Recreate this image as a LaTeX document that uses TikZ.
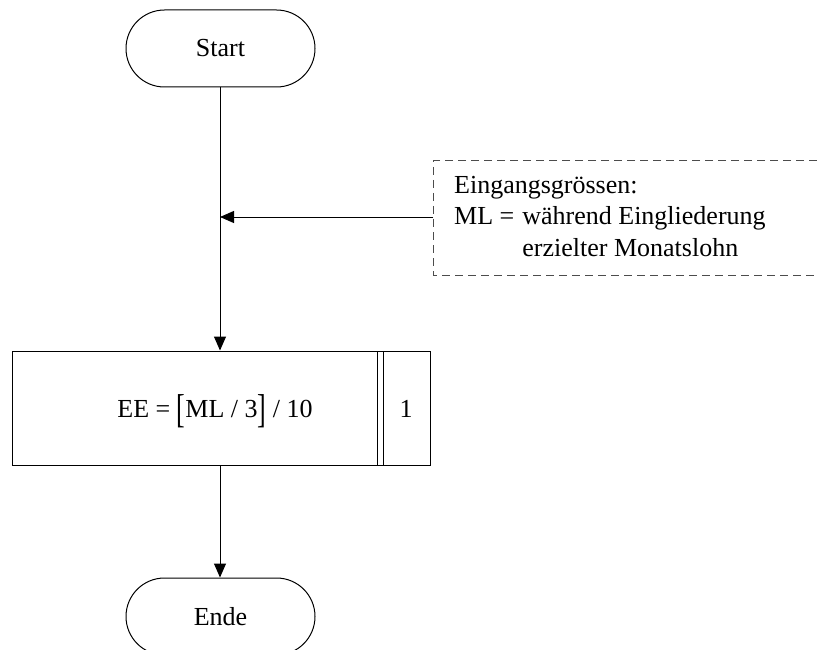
\documentclass[tikz,border=0pt]{standalone}
\usepackage{fontspec}
\setmainfont{Liberation Serif}
\usetikzlibrary{arrows.meta}
\begin{document}
\begin{tikzpicture}[x=1pt,y=-1pt,
  every node/.style={font=\fontsize{26}{30}\selectfont},
  line/.style={line width=1pt,draw=black},
  arr/.style={line,-{Triangle[length=14pt,width=12pt]}},
  terminal/.style={line,rectangle,rounded corners=38.5pt,minimum width=189pt,minimum height=77pt,inner sep=0pt},
  procbox/.style={line,rectangle,minimum width=418pt,minimum height=114pt,inner sep=0pt},
  dashedline/.style={line width=1pt,draw=black!70,dash pattern=on 8pt off 5pt}]
\useasboundingbox (0,0) rectangle (817,650);
\clip (0,0) rectangle (817,650);
\node[terminal] (start) at (220.5,48.5) {Start};
\node[procbox] (proc) at (221,408) {};
\node[anchor=base] (eq) at (215,417) {EE = \raisebox{-0.22em}{\scalebox{1}[1.55]{[}}ML / 3\raisebox{-0.22em}{\scalebox{1}[1.55]{]}} / 10};
\node[anchor=base] (num) at (406,417) {1};
\draw[line] (377,351) -- (377,465);
\draw[line] (383,351) -- (383,465);
\node[terminal] (ende) at (220.5,616.5) {Ende};
% input box
\node[anchor=north west,inner sep=0pt,align=left] (inp) at (454,172) {%
\renewcommand\arraystretch{1.035}%
\begin{tabular}{@{}l@{\hspace{8pt}}l@{}}
\multicolumn{2}{@{}l@{}}{Eingangsgrössen:}\\
ML = & während Eingliederung\\
 & erzielter Monatslohn
\end{tabular}};
\draw[dashedline] (817,161) -- (433,161) -- (433,275) -- (817,275);
\coordinate (inpL) at (433,217);
\coordinate (join) at (220,217);
\draw[line] (start.south -| join) -- (join);
\draw[arr] (join) -- (proc.north -| join);
\draw[arr] (inpL) -- (join);
\draw[arr] (proc.south -| join) -- (ende.north -| join);
\end{tikzpicture}
\end{document}
